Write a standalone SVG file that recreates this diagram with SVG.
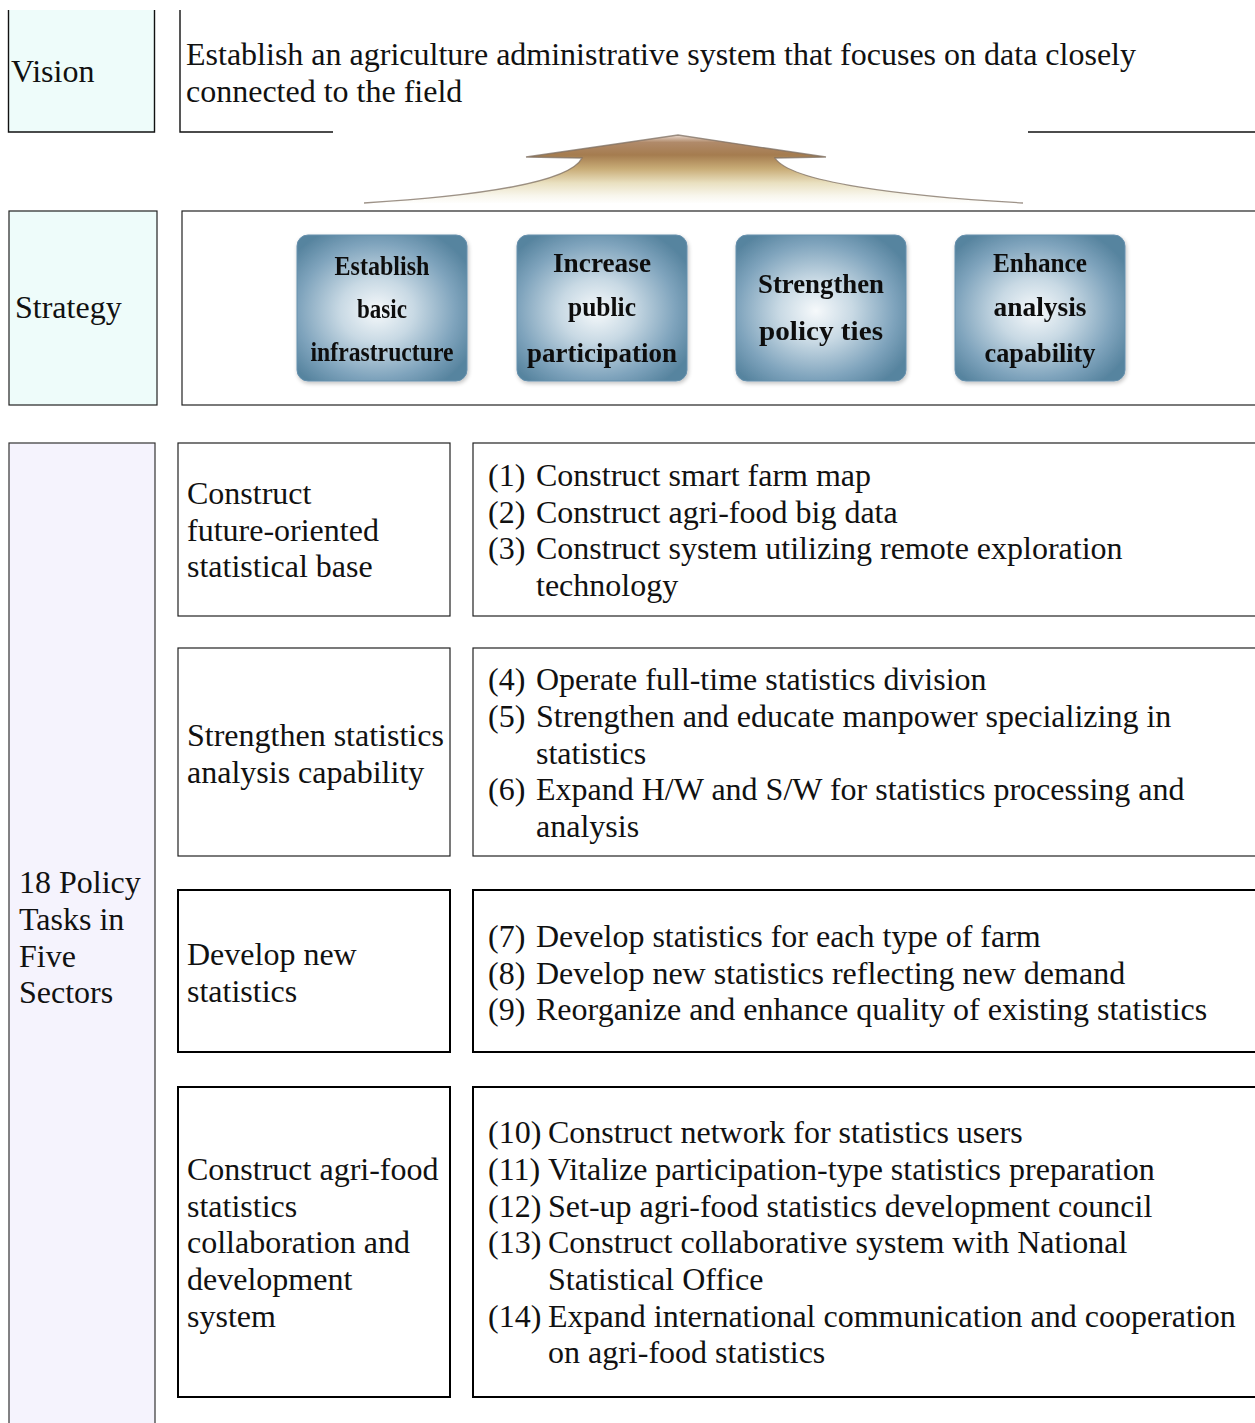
<svg xmlns="http://www.w3.org/2000/svg" width="1255" height="1423" viewBox="0 0 1255 1423">
<defs>
<style>
.t{font-family:"Liberation Serif","Times New Roman",serif;font-size:32px;fill:#111;}
.b{font-family:"Liberation Serif","Times New Roman",serif;font-size:28px;font-weight:bold;fill:#111;text-anchor:middle;}
.lbl{fill:#eefcfa;stroke:#222;stroke-width:1.2;}
.box1{fill:#fff;stroke:#222;stroke-width:1.2;}
.box2{fill:#fff;stroke:#000;stroke-width:2;}
.ln{fill:none;stroke:#111;stroke-width:1.4;}
.btn{fill:url(#btnG);stroke:#6690ad;stroke-width:1;}
</style>
<radialGradient id="btnG" cx="0.47" cy="0.52" r="0.62">
<stop offset="0" stop-color="#f6f9fb"/>
<stop offset="0.35" stop-color="#c8d9e4"/>
<stop offset="0.75" stop-color="#7ea3bc"/>
<stop offset="1" stop-color="#57849f"/>
</radialGradient>
<linearGradient id="arrG" gradientUnits="userSpaceOnUse" x1="0" y1="134" x2="0" y2="204">
<stop offset="0" stop-color="#f1e4dc"/>
<stop offset="0.12" stop-color="#b08a6a"/>
<stop offset="0.3" stop-color="#a57c4f"/>
<stop offset="0.5" stop-color="#c9ad78"/>
<stop offset="0.7" stop-color="#e9e0c0"/>
<stop offset="0.88" stop-color="#f8f6ec"/>
<stop offset="1" stop-color="#ffffff"/>
</linearGradient>
<filter id="sh" x="-10%" y="-10%" width="120%" height="120%">
<feGaussianBlur in="SourceAlpha" stdDeviation="2"/>
<feOffset dx="1" dy="2" result="o"/>
<feComponentTransfer><feFuncA type="linear" slope="0.25"/></feComponentTransfer>
<feMerge><feMergeNode/><feMergeNode in="SourceGraphic"/></feMerge>
</filter>
</defs>
<rect x="0" y="0" width="1255" height="1423" fill="#fff"/>

<g id="vision-label">
<rect x="8.5" y="10" width="146" height="122" fill="#eefcfa"/>
<path class="ln" d="M8.5,10 V132 H154.5 V10"/>
<text class="t" x="11" y="82">Vision</text>
</g>
<g id="vision-content">
<path class="ln" d="M180,10 V132 H333"/>
<path class="ln" d="M1028,132 H1256"/>
<text class="t" x="186" y="65">Establish an agriculture administrative system that focuses on data closely</text>
<text class="t" x="186" y="102">connected to the field</text>
</g>

<g id="connectors">
<path d="M678,135 L826,157 L775,158 C790,182 900,196 1023,203 L364,203 C480,196 570,182 582,158 L526,157 Z" fill="url(#arrG)"/>
<path d="M364,203 C480,196 570,182 582,158 L526,157 L678,135 L826,157 L775,158 C790,182 900,196 1023,203" fill="none" stroke="#7d6f62" stroke-width="1.3" stroke-opacity="0.75"/>
</g>

<g id="strategy-label">
<rect class="lbl" x="9" y="211" width="148" height="194"/>
<text class="t" x="15" y="318">Strategy</text>
</g>
<g id="strategy-content">
<rect class="box1" x="182" y="211" width="1080" height="194"/>
</g>
<g id="btn-infra" filter="url(#sh)">
<rect class="btn" x="297" y="235" width="170" height="146" rx="11"/>
<text class="b" x="382" y="275" textLength="95" lengthAdjust="spacingAndGlyphs">Establish</text>
<text class="b" x="382" y="318" textLength="50" lengthAdjust="spacingAndGlyphs">basic</text>
<text class="b" x="382" y="361" textLength="143" lengthAdjust="spacingAndGlyphs">infrastructure</text>
</g>
<g id="btn-public" filter="url(#sh)">
<rect class="btn" x="517" y="235" width="170" height="146" rx="11"/>
<text class="b" x="602" y="272" textLength="98" lengthAdjust="spacingAndGlyphs">Increase</text>
<text class="b" x="602" y="316" textLength="68" lengthAdjust="spacingAndGlyphs">public</text>
<text class="b" x="602" y="362" textLength="150" lengthAdjust="spacingAndGlyphs">participation</text>
</g>
<g id="btn-policy" filter="url(#sh)">
<rect class="btn" x="736" y="235" width="170" height="146" rx="11"/>
<text class="b" x="821" y="293" textLength="126" lengthAdjust="spacingAndGlyphs">Strengthen</text>
<text class="b" x="821" y="340" textLength="124" lengthAdjust="spacingAndGlyphs">policy ties</text>
</g>
<g id="btn-analysis" filter="url(#sh)">
<rect class="btn" x="955" y="235" width="170" height="146" rx="11"/>
<text class="b" x="1040" y="272" textLength="94" lengthAdjust="spacingAndGlyphs">Enhance</text>
<text class="b" x="1040" y="316" textLength="93" lengthAdjust="spacingAndGlyphs">analysis</text>
<text class="b" x="1040" y="362" textLength="111" lengthAdjust="spacingAndGlyphs">capability</text>
</g>

<g id="tasks-label">
<rect x="9" y="443" width="146" height="990" fill="#f5f3fd" stroke="#333" stroke-width="1.2"/>
<text class="t" x="19" y="893">18 Policy</text>
<text class="t" x="19" y="930">Tasks in</text>
<text class="t" x="19" y="967">Five</text>
<text class="t" x="19" y="1003">Sectors</text>
</g>

<g id="sector1">
<rect class="box1" x="178" y="443" width="272" height="173"/>
<text class="t" x="187" y="504">Construct</text>
<text class="t" x="187" y="541">future-oriented</text>
<text class="t" x="187" y="577">statistical base</text>
</g>
<g id="tasks1">
<rect class="box1" x="473" y="443" width="790" height="173"/>
<text class="t" y="486"><tspan x="488">(1)</tspan><tspan x="536">Construct smart farm map</tspan></text>
<text class="t" y="523"><tspan x="488">(2)</tspan><tspan x="536">Construct agri-food big data</tspan></text>
<text class="t" y="559"><tspan x="488">(3)</tspan><tspan x="536">Construct system utilizing remote exploration</tspan></text>
<text class="t" x="536" y="596">technology</text>
</g>

<g id="sector2">
<rect class="box1" x="178" y="648" width="272" height="208"/>
<text class="t" x="187" y="746">Strengthen statistics</text>
<text class="t" x="187" y="783">analysis capability</text>
</g>
<g id="tasks2">
<rect class="box1" x="473" y="648" width="790" height="208"/>
<text class="t" y="690"><tspan x="488">(4)</tspan><tspan x="536">Operate full-time statistics division</tspan></text>
<text class="t" y="727"><tspan x="488">(5)</tspan><tspan x="536">Strengthen and educate manpower specializing in</tspan></text>
<text class="t" x="536" y="764">statistics</text>
<text class="t" y="800"><tspan x="488">(6)</tspan><tspan x="536">Expand H/W and S/W for statistics processing and</tspan></text>
<text class="t" x="536" y="837">analysis</text>
</g>

<g id="sector3">
<rect class="box2" x="178" y="890" width="272" height="162"/>
<text class="t" x="187" y="965">Develop new</text>
<text class="t" x="187" y="1002">statistics</text>
</g>
<g id="tasks3">
<rect class="box2" x="473" y="890" width="790" height="162"/>
<text class="t" y="947"><tspan x="488">(7)</tspan><tspan x="536">Develop statistics for each type of farm</tspan></text>
<text class="t" y="984"><tspan x="488">(8)</tspan><tspan x="536">Develop new statistics reflecting new demand</tspan></text>
<text class="t" y="1020"><tspan x="488">(9)</tspan><tspan x="536">Reorganize and enhance quality of existing statistics</tspan></text>
</g>

<g id="sector4">
<rect class="box2" x="178" y="1087" width="272" height="310"/>
<text class="t" x="187" y="1180">Construct agri-food</text>
<text class="t" x="187" y="1217">statistics</text>
<text class="t" x="187" y="1253">collaboration and</text>
<text class="t" x="187" y="1290">development</text>
<text class="t" x="187" y="1327">system</text>
</g>
<g id="tasks4">
<rect class="box2" x="473" y="1087" width="790" height="310"/>
<text class="t" y="1143"><tspan x="488">(10)</tspan><tspan x="548">Construct network for statistics users</tspan></text>
<text class="t" y="1180"><tspan x="488">(11)</tspan><tspan x="548">Vitalize participation-type statistics preparation</tspan></text>
<text class="t" y="1217"><tspan x="488">(12)</tspan><tspan x="548">Set-up agri-food statistics development council</tspan></text>
<text class="t" y="1253"><tspan x="488">(13)</tspan><tspan x="548">Construct collaborative system with National</tspan></text>
<text class="t" x="548" y="1290">Statistical Office</text>
<text class="t" y="1327"><tspan x="488">(14)</tspan><tspan x="548">Expand international communication and cooperation</tspan></text>
<text class="t" x="548" y="1363">on agri-food statistics</text>
</g>
</svg>
